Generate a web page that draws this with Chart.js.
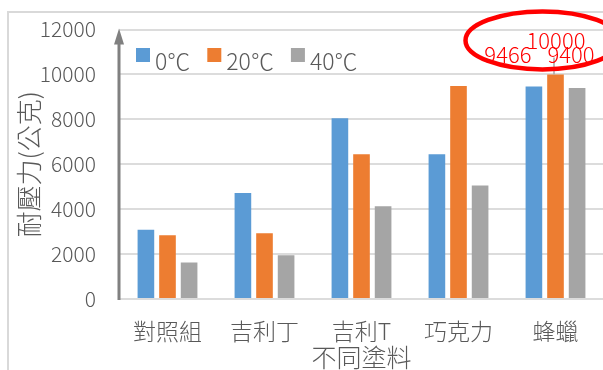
<!DOCTYPE html>
<html>
<head>
<meta charset="utf-8">
<script src="https://cdn.jsdelivr.net/npm/chart.js@4/dist/chart.umd.min.js"></script>
<style>
  html, body { margin: 0; padding: 0; background: #fff; overflow: hidden; }
  #wrap { position: relative; width: 603px; height: 370px; overflow: hidden; }
  canvas { position: absolute; left: 0; top: 0; }
</style>
</head>
<body>
<div id="wrap"><canvas id="c" width="606" height="370"></canvas></div>
<script>
// Categories (coatings) and compressive strength per temperature
const categories = ['對照組', '吉利丁', '吉利T', '巧克力', '蜂蠟'];
const seriesNames = ['0℃', '20℃', '40℃'];
const values0 = [3080, 4720, 8050, 6450, 9466];
const values20 = [2840, 2930, 6450, 9480, 10000];
const values40 = [1620, 1950, 4130, 5050, 9400];
const yTicks = [0, 2000, 4000, 6000, 8000, 10000, 12000];
const colors = ['#5B9BD5', '#ED7D31', '#A5A5A5'];
const xTitle = '不同塗料';
const yTitle = '耐壓力(公克)';
// Category whose values are called out in red
const calloutIndex = 4;

const FONT = '"Noto Sans CJK TC", "Noto Sans", sans-serif';
const WEIGHT = 300;
const TEXT = '#595959';
Chart.defaults.font.family = FONT;
Chart.defaults.font.weight = WEIGHT;
Chart.defaults.color = TEXT;

// Outer frame of the chart
const framePlugin = {
  id: 'frame',
  beforeDraw(chart) {
    const ctx = chart.ctx;
    ctx.save();
    ctx.strokeStyle = '#d9d9d9';
    ctx.lineWidth = 2;
    ctx.beginPath();
    ctx.moveTo(8, 400);
    ctx.lineTo(8, 12);
    ctx.lineTo(700, 12);
    ctx.stroke();
    ctx.restore();
  }
};

// Vertical axis drawn as an arrow
const arrowAxisPlugin = {
  id: 'arrowAxis',
  afterDatasetsDraw(chart) {
    const { ctx, chartArea } = chart;
    const x = chartArea.left;
    const top = chartArea.top;
    ctx.save();
    ctx.strokeStyle = '#808080';
    ctx.fillStyle = '#808080';
    ctx.lineWidth = 3;
    ctx.beginPath();
    ctx.moveTo(x, chartArea.bottom + 1);
    ctx.lineTo(x, top + 12);
    ctx.stroke();
    ctx.beginPath();
    ctx.moveTo(x, top - 1);
    ctx.lineTo(x - 5, top + 15);
    ctx.lineTo(x + 5, top + 15);
    ctx.closePath();
    ctx.fill();
    ctx.restore();
  }
};

// Legend placed inside the plot area
const innerLegendPlugin = {
  id: 'innerLegend',
  afterDraw(chart) {
    const { ctx, chartArea } = chart;
    let x = chartArea.left + 17;
    const boxTop = chartArea.top + 18.5;
    ctx.save();
    ctx.font = WEIGHT + ' 23px ' + FONT;
    ctx.textBaseline = 'alphabetic';
    ctx.textAlign = 'left';
    chart.data.datasets.forEach(ds => {
      ctx.fillStyle = ds.backgroundColor;
      ctx.fillRect(x, boxTop, 14, 14);
      ctx.fillStyle = TEXT;
      ctx.fillText(ds.label, x + 19, boxTop + 22);
      x += 19 + ctx.measureText(ds.label).width + 17;
    });
    ctx.restore();
  }
};

// Red value callouts with an ellipse around them
const calloutPlugin = {
  id: 'callout',
  afterDraw(chart) {
    const { ctx } = chart;
    const bars = chart.data.datasets.map((ds, i) => chart.getDatasetMeta(i).data[calloutIndex]);
    const offsets = [[-26, -32], [0.5, -34], [-6, -33]];
    ctx.save();
    // leader line above the middle bar
    const mid = bars[1];
    ctx.strokeStyle = '#a6a6a6';
    ctx.lineWidth = 1.5;
    ctx.beginPath();
    ctx.moveTo(mid.x - 1.5, mid.y);
    ctx.lineTo(mid.x - 1.5, mid.y - 17);
    ctx.stroke();

    ctx.fillStyle = '#ff0000';
    ctx.font = WEIGHT + ' 22px ' + FONT;
    ctx.textAlign = 'center';
    ctx.textBaseline = 'middle';
    chart.data.datasets.forEach((ds, i) => {
      const b = bars[i];
      ctx.fillText(String(ds.data[calloutIndex]), b.x + offsets[i][0], b.y + offsets[i][1]);
    });

    ctx.strokeStyle = '#ff0000';
    ctx.lineWidth = 4.5;
    ctx.beginPath();
    ctx.ellipse(mid.x - 13, mid.y - 34, 77, 29, 0, 0, Math.PI * 2);
    ctx.stroke();
    ctx.restore();
  }
};

const seriesValues = [values0, values20, values40];

new Chart(document.getElementById('c'), {
  type: 'bar',
  data: {
    labels: categories,
    datasets: seriesNames.map((name, i) => ({
      label: name,
      data: seriesValues[i],
      backgroundColor: colors[i],
      borderWidth: 0,
      categoryPercentage: 0.668,
      barPercentage: 0.77
    }))
  },
  options: {
    responsive: false,
    animation: false,
    layout: { padding: { left: 7, top: 29.5, right: 2, bottom: 0 } },
    plugins: {
      legend: { display: false },
      tooltip: { enabled: false }
    },
    scales: {
      x: {
        grid: { display: false, drawTicks: false },
        border: { display: false },
        ticks: { font: { size: 23 }, color: TEXT, padding: 18, maxRotation: 0 },
        title: {
          display: true, text: xTitle, color: TEXT,
          font: { size: 25, lineHeight: 1 }, padding: { top: 0, bottom: 0 }
        },
        afterFit(scale) { scale.height = 71; }
      },
      y: {
        min: 0,
        max: 12000,
        afterBuildTicks(scale) { scale.ticks = yTicks.map(v => ({ value: v })); },
        grid: { color: '#dcdcdc', lineWidth: 2, drawTicks: false },
        border: { display: false },
        ticks: {
          font: { size: 21 }, color: TEXT, padding: 23,
          callback: v => String(v)
        },
        title: {
          display: true, text: yTitle, color: TEXT,
          font: { size: 26, lineHeight: 1.2 }, padding: { top: 7, bottom: 0 }
        },
        afterFit(scale) {
          scale.width = 112;
          scale.paddingTop = 0;
          scale.paddingBottom = 0;
        }
      }
    }
  },
  plugins: [framePlugin, arrowAxisPlugin, innerLegendPlugin, calloutPlugin]
});
</script>
</body>
</html>
